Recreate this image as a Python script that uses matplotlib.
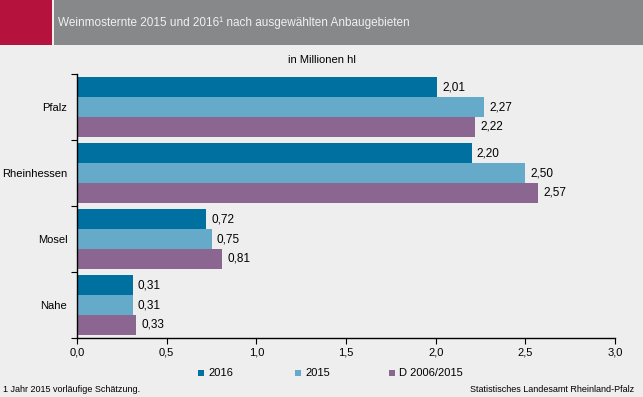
import numpy as np
import matplotlib.pyplot as plt
from matplotlib.patches import Rectangle

plt.rcParams['font.family'] = ['Liberation Sans', 'DejaVu Sans']

regions = ['Pfalz', 'Rheinhessen', 'Mosel', 'Nahe']
v2016 = [2.01, 2.20, 0.72, 0.31]
v2015 = [2.27, 2.50, 0.75, 0.31]
vavg = [2.22, 2.57, 0.81, 0.33]
series = ['2016', '2015', 'D 2006/2015']
colors = ['#0070a0', '#66aaca', '#8b6690']
xticks = [0.0, 0.5, 1.0, 1.5, 2.0, 2.5, 3.0]

bg = '#edeeed'
W, H = 643, 397
fig = plt.figure(figsize=(W / 100, H / 100), dpi=100)
fig.patch.set_facecolor(bg)

# header band
fig.patches.append(Rectangle((0, 1 - 45 / H), 52 / W, 45 / H, transform=fig.transFigure,
                             facecolor='#b5123e', edgecolor='none'))
fig.patches.append(Rectangle((54 / W, 1 - 45 / H), 1 - 54 / W, 45 / H, transform=fig.transFigure,
                             facecolor='#878889', edgecolor='none'))
fig.text(58 / W, 1 - 23 / H, 'Weinmosternte 2015 und 2016¹ nach ausgewählten Anbaugebieten',
         color='#f0f0f0', fontsize=8.5, va='center', ha='left')
fig.text(0.5, 1 - 60 / H, 'in Millionen hl', fontsize=8, ha='center', va='center')

ax = fig.add_axes([77 / W, 1 - 338 / H, (615 - 77) / W, (338 - 74) / H])
ax.set_facecolor(bg)

y = np.arange(len(regions))
h = 0.3
for i, (vals, c) in enumerate(zip([v2016, v2015, vavg], colors)):
    pos = y + (i - 1) * h
    ax.barh(pos, vals, height=h, color=c, label=series[i])
    for p, v in zip(pos, vals):
        ax.text(v + 0.03, p, ('%.2f' % v).replace('.', ','), va='center', ha='left', fontsize=8.5)

ax.set_xlim(0, 3.0)
ax.set_ylim(3.5, -0.5)
ax.set_xticks(xticks)
ax.set_xticklabels([('%.1f' % t).replace('.', ',') for t in xticks], fontsize=8)
ax.set_yticks(np.arange(-0.5, 4.0, 1.0))
ax.set_yticklabels([])
ax.set_yticks(y, minor=True)
ax.set_yticklabels(regions, minor=True, fontsize=8)
ax.tick_params(axis='y', which='minor', length=0, pad=7)
ax.tick_params(axis='y', which='major', length=4, direction='out')
ax.tick_params(axis='x', length=4, direction='out', pad=3)
for s in ['top', 'right']:
    ax.spines[s].set_visible(False)
for s in ['left', 'bottom']:
    ax.spines[s].set_linewidth(1.0)

# legend
lx = [201, 298, 392]
for i in range(3):
    fig.patches.append(Rectangle(((lx[i] - 3) / W, 1 - 376 / H), 6 / W, 6 / H,
                                 transform=fig.transFigure, facecolor=colors[i], edgecolor='none'))
    fig.text((lx[i] + 7) / W, 1 - 373 / H, series[i], fontsize=8, va='center', ha='left')

fig.text(3 / W, 1 - 389 / H, '1 Jahr 2015 vorläufige Schätzung.', fontsize=6.5, va='center', ha='left')
fig.text(634 / W, 1 - 389 / H, 'Statistisches Landesamt Rheinland-Pfalz', fontsize=6.5, va='center', ha='right')

fig.savefig('out.png', dpi=100, facecolor=bg)
